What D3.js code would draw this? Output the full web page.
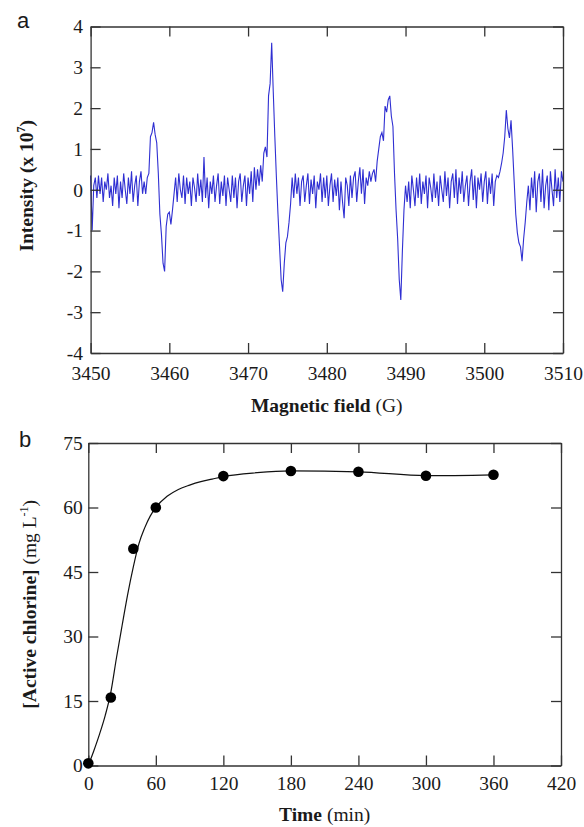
<!DOCTYPE html>
<html>
<head>
<meta charset="utf-8">
<script src="https://cdn.jsdelivr.net/npm/d3@7"></script>
<style>
  body { margin: 0; background: #fff; }
  svg text { font-family: "Liberation Serif", "Times New Roman", serif; fill: #1a1a1a; }
  .axis path, .axis line { stroke: #333; stroke-width: 1.3; }
  .title { font-size: 19.5px; }
  .panel { font-size: 22px; }
</style>
</head>
<body>
<div id="container"></div>
<script>
/* DATA */
// panel a: EPR spectrum, one reading every 0.2 G starting at 3450 G
const fieldStart = 3450,
  fieldStep = 0.2;
const intensity = [
  0.35, -1.0, 0.1, 0.3, -0.2, 0.35, -0.1, 0.3, -0.3, 0.2,
  0.0, 0.4, -0.2, 0.1, -0.4, 0.3, -0.1, 0.35, -0.45, 0.2,
  -0.2, 0.4, 0.0, -0.35, 0.3, -0.1, 0.45, -0.3, 0.1, 0.35,
  -0.4, 0.2, 0.45, -0.1, 0.2, -0.1, 0.3, 0.4, 1.3, 1.4,
  1.65, 1.35, 1.15, 0.4, -0.6, -1.1, -1.8, -2.0, -0.9, -0.6,
  -0.55, -0.85, -0.5, -0.1, 0.3, -0.3, 0.4, 0.0, -0.2, 0.35,
  -0.35, 0.3, -0.1, 0.2, -0.4, 0.3, 0.05, -0.3, 0.4, -0.15,
  0.25, -0.3, 0.8, -0.2, 0.3, -0.45, 0.2, -0.1, 0.35, -0.3,
  0.1, 0.4, -0.35, 0.2, -0.15, 0.35, -0.4, 0.3, 0.0, -0.3,
  0.35, -0.2, 0.3, -0.45, 0.2, 0.4, -0.3, 0.1, 0.35, -0.4,
  0.3, -0.1, 0.45, -0.3, 0.55, 0.0, 0.5, 0.1, 0.6, 0.2,
  0.9, 1.05, 0.8, 2.3, 2.6, 3.6, 2.4, 1.3, 0.3, -0.6,
  -1.4, -2.2, -2.5, -1.8, -1.3, -1.15, -0.8, -0.35, 0.3, -0.2,
  0.4, -0.1, 0.3, -0.4, 0.2, 0.35, -0.3, 0.1, 0.4, -0.35,
  0.25, -0.1, 0.35, -0.45, 0.2, 0.0, 0.4, -0.3, 0.3, -0.2,
  0.35, -0.4, 0.1, 0.4, -0.3, 0.25, -0.15, 0.3, -0.5, 0.2,
  -0.3, -0.7, 0.3, 0.1, -0.4, 0.35, -0.2, 0.3, 0.45, -0.3,
  0.2, 0.55, -0.1, 0.5, -0.35, 0.3, 0.1, 0.45, 0.2, 0.4,
  0.5, 0.2, 0.7, 1.0, 1.3, 1.4, 1.2, 2.05, 1.9, 2.2,
  2.3, 1.8, 1.55, 0.4, -0.5, -1.2, -2.2, -2.7, -1.5, -0.5,
  0.1, -0.3, 0.2, -0.45, 0.35, 0.0, -0.4, 0.3, -0.2, 0.4,
  -0.35, 0.2, -0.1, 0.35, -0.45, 0.3, 0.05, -0.3, 0.4, -0.2,
  0.2, -0.4, 0.35, 0.0, -0.3, 0.45, -0.15, 0.3, -0.45, 0.2,
  0.4, -0.2, 0.5, -0.35, 0.3, -0.1, 0.45, -0.3, 0.1, 0.35,
  -0.4, 0.2, 0.5, -0.25, 0.35, -0.45, 0.3, 0.0, 0.4, -0.3,
  0.2, 0.45, -0.35, 0.3, -0.1, 0.4, -0.4, 0.2, 0.35, 0.3,
  0.45, 0.65, 0.9, 1.3, 1.95, 1.5, 1.27, 1.7, 1.0, 0.2,
  -0.6, -1.05, -1.3, -1.4, -1.75, -1.2, -0.8, -0.3, 0.1, -0.5,
  0.3, -0.2, 0.45, -0.55, 0.2, 0.4, -0.3, 0.5, -0.45, 0.1,
  0.35, -0.5, 0.45, 0.0, -0.4, 0.5, -0.2, 0.3, -0.3, 0.45,
  0.2
];
const fieldTicks = [3450, 3460, 3470, 3480, 3490, 3500, 3510];
const intensityTicks = [-4, -3, -2, -1, 0, 1, 2, 3, 4];

// panel b: active chlorine vs time
const timePoints = [0, 20, 40, 60, 120, 180, 240, 300, 360];
const chlorine = [0.5, 15.8, 50.4, 60, 67.3, 68.5, 68.3, 67.4, 67.6];
// fitted curve
const fitTime = [0, 5, 10, 15, 20, 25, 30, 35, 40, 45, 50, 55, 60, 70, 80, 90, 100, 110, 120, 150, 180, 240, 300, 360];
const fitChlorine = [0, 3.5, 7.3, 11.6, 17, 25, 32.5, 39.8, 46.2, 51.6, 55.2, 58, 60, 62.6, 64.2, 65.2, 66, 66.6, 67.2, 68.1, 68.5, 68.3, 67.4, 67.6];
const timeTicks = [0, 60, 120, 180, 240, 300, 360, 420];
const chlorineTicks = [0, 15, 30, 45, 60, 75];

/* SVG */
const width = 584,
  height = 827;

const svg = d3.select("#container")
  .append("svg")
  .attr("width", width)
  .attr("height", height);

const serif = '"Liberation Serif", "Times New Roman", serif';

// four axes make the box, ticks point inward, labels only bottom + left
function drawFrame(x, y, xTicks, yTicks, xPad, yPad) {
  const [x0, x1] = x.range(),
    [y0, y1] = y.range();
  const fmt = d => String(d);
  svg.append("g").attr("class", "axis")
    .attr("transform", `translate(0,${y0})`)
    .call(d3.axisBottom(x).tickValues(xTicks).tickFormat(fmt).tickSizeInner(-10).tickSizeOuter(0).tickPadding(xPad));
  svg.append("g").attr("class", "axis")
    .attr("transform", `translate(0,${y1})`)
    .call(d3.axisTop(x).tickValues(xTicks).tickSizeInner(-10).tickSizeOuter(0).tickFormat(""));
  svg.append("g").attr("class", "axis")
    .attr("transform", `translate(${x0},0)`)
    .call(d3.axisLeft(y).tickValues(yTicks).tickFormat(fmt).tickSizeInner(-10).tickSizeOuter(0).tickPadding(yPad));
  svg.append("g").attr("class", "axis")
    .attr("transform", `translate(${x1},0)`)
    .call(d3.axisRight(y).tickValues(yTicks).tickSizeInner(-10).tickSizeOuter(0).tickFormat(""));
  svg.selectAll(".axis")
    .attr("font-family", serif)
    .attr("font-size", 19.5)
    .selectAll("text")
    .style("font-family", serif)
    .style("font-size", "19.5px")
    .attr("fill", "#1a1a1a");
}

/* PANEL A */
const xA = d3.scaleLinear().domain([3450, 3510]).range([90.6, 563]);
const yA = d3.scaleLinear().domain([-4, 4]).range([353, 26.5]);

const spectrum = intensity.map((v, i) => ({ g: fieldStart + i * fieldStep, v: v }));

svg.append("path")
  .datum(spectrum)
  .attr("fill", "none")
  .attr("stroke", "#2f2fd2")
  .attr("stroke-width", 1.1)
  .attr("d", d3.line().x(d => xA(d.g)).y(d => yA(d.v)));

drawFrame(xA, yA, fieldTicks, intensityTicks, 13, 7.5);

svg.append("text").attr("class", "panel").attr("x", 17).attr("y", 28)
  .style("font-family", '"Liberation Sans", Arial, sans-serif').text("a");

const xTitleA = svg.append("text").attr("class", "title")
  .attr("x", (xA.range()[0] + xA.range()[1]) / 2).attr("y", 412)
  .attr("text-anchor", "middle");
xTitleA.append("tspan").attr("font-weight", "bold").text("Magnetic field");
xTitleA.append("tspan").text(" (G)");

const yTitleA = svg.append("text").attr("class", "title")
  .attr("transform", `translate(33,${(yA.range()[0] + yA.range()[1]) / 2 - 4}) rotate(-90)`)
  .attr("text-anchor", "middle").attr("font-weight", "bold");
yTitleA.append("tspan").text("Intensity (x 10");
yTitleA.append("tspan").attr("font-size", "12px").attr("dy", -8).text("7");
yTitleA.append("tspan").attr("dy", 8).text(")");

/* PANEL B */
const xB = d3.scaleLinear().domain([0, 420]).range([88.3, 561]);
const yB = d3.scaleLinear().domain([0, 75]).range([765.5, 443]);

const fit = fitTime.map((t, i) => ({ t: t, c: fitChlorine[i] }));

svg.append("path")
  .datum(fit)
  .attr("fill", "none")
  .attr("stroke", "#111")
  .attr("stroke-width", 1.2)
  .attr("d", d3.line().x(d => xB(d.t)).y(d => yB(d.c)).curve(d3.curveMonotoneX));

drawFrame(xB, yB, timeTicks, chlorineTicks, 11, 5.5);

svg.selectAll("circle.pt")
  .data(timePoints.map((t, i) => ({ t: t, c: chlorine[i] })))
  .join("circle")
  .attr("class", "pt")
  .attr("cx", d => xB(d.t))
  .attr("cy", d => yB(d.c))
  .attr("r", 5.3)
  .attr("fill", "#000");

svg.append("text").attr("class", "panel").attr("x", 19).attr("y", 447)
  .style("font-family", '"Liberation Sans", Arial, sans-serif').text("b");

const xTitleB = svg.append("text").attr("class", "title")
  .attr("x", (xB.range()[0] + xB.range()[1]) / 2).attr("y", 821)
  .attr("text-anchor", "middle");
xTitleB.append("tspan").attr("font-weight", "bold").text("Time");
xTitleB.append("tspan").text(" (min)");

const yTitleB = svg.append("text").attr("class", "title")
  .attr("transform", `translate(36,${(yB.range()[0] + yB.range()[1]) / 2}) rotate(-90)`)
  .attr("text-anchor", "middle");
yTitleB.append("tspan").attr("font-weight", "bold").text("[Active chlorine]");
yTitleB.append("tspan").text(" (mg L");
yTitleB.append("tspan").attr("font-size", "12px").attr("dy", -8).text("-1");
yTitleB.append("tspan").attr("dy", 8).text(")");
</script>
</body>
</html>
